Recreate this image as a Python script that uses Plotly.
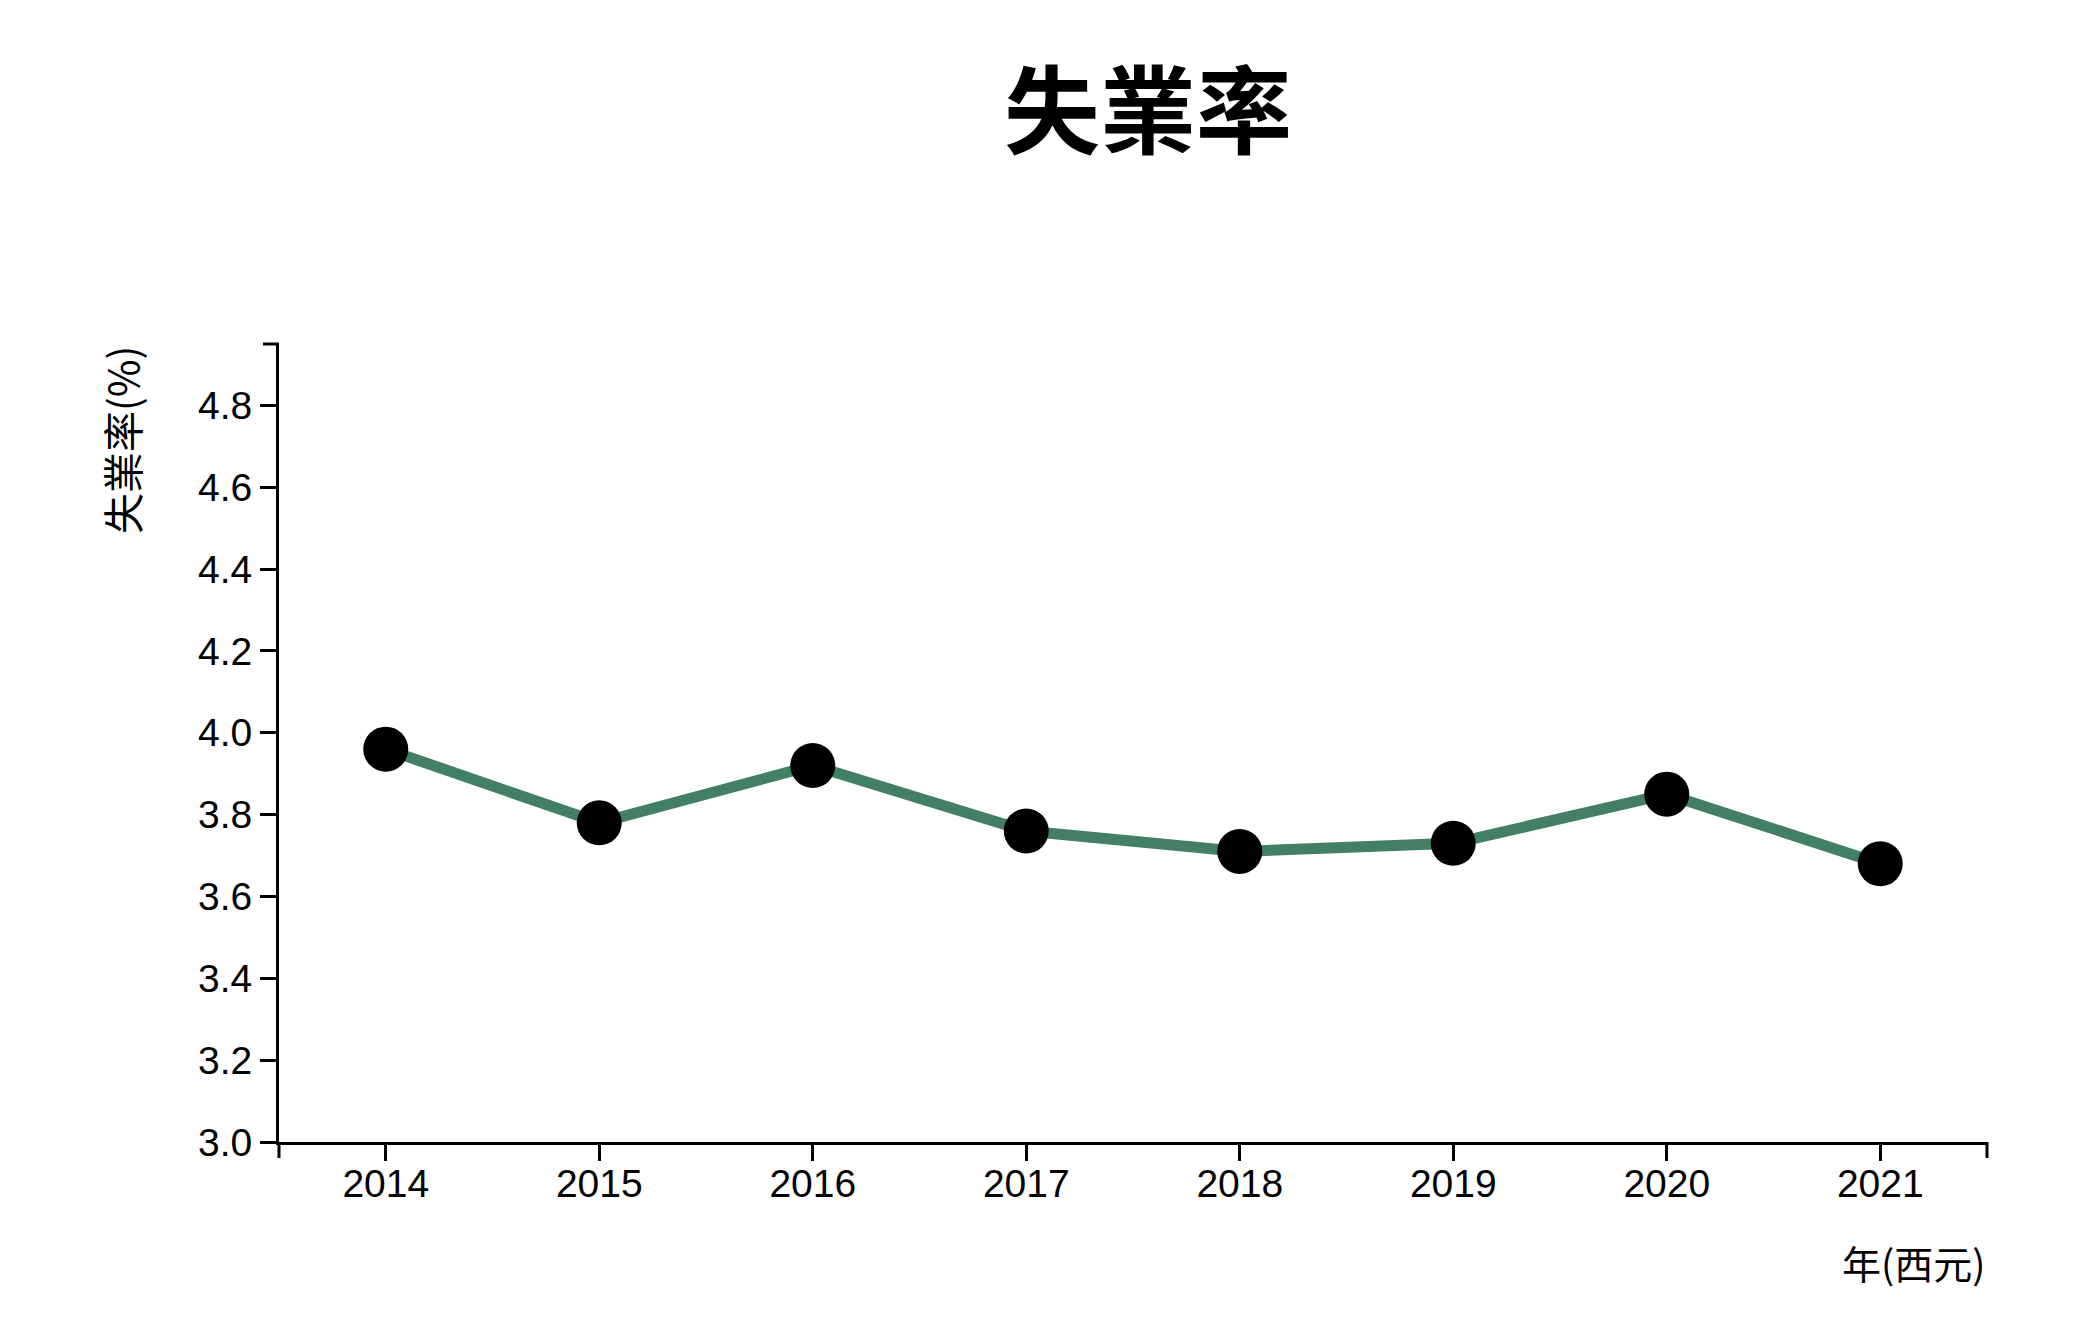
import plotly.graph_objects as go

years = [2014, 2015, 2016, 2017, 2018, 2019, 2020, 2021]
rates = [3.96, 3.78, 3.92, 3.76, 3.71, 3.73, 3.85, 3.68]
y_ticks = [3.0, 3.2, 3.4, 3.6, 3.8, 4.0, 4.2, 4.4, 4.6, 4.8]
title_text = "失業率"
y_title = "失業率(%)"
x_title = "年(西元)"

X_RANGE = [2013.5, 2021.5]
Y_RANGE = [3.0, 4.95]
FONT = "Liberation Sans, Noto Sans CJK TC, sans-serif"
CJK = "Noto Sans CJK TC, sans-serif"

fig = go.Figure()
fig.add_trace(go.Scatter(
    x=years, y=rates, mode="lines+markers",
    line=dict(color="#437F64", width=11),
    marker=dict(color="black", size=45, line=dict(width=0)),
    hoverinfo="x+y", showlegend=False,
))

axis_common = dict(
    showline=True, linecolor="black", linewidth=3,
    ticks="outside", ticklen=16, tickwidth=3, tickcolor="black",
    showgrid=False, zeroline=False,
    tickfont=dict(family=FONT, size=39, color="black"),
)

fig.update_layout(
    width=2094, height=1324,
    paper_bgcolor="white", plot_bgcolor="white",
    margin=dict(l=279, r=107, t=344, b=182, pad=0),
    title=dict(text=title_text, x=0.5482, xanchor="center", y=1 - 112 / 1324, yanchor="middle",
               font=dict(family=CJK, size=96, color="black", weight="bold")),
    xaxis=dict(range=X_RANGE, tickvals=years, ticktext=[str(v) for v in years],
               ticklabelstandoff=-11, **axis_common),
    yaxis=dict(range=Y_RANGE, tickvals=y_ticks, ticktext=[f"{v:.1f}" for v in y_ticks], **axis_common),
    annotations=[
        dict(text=y_title, xref="paper", yref="paper", x=-158 / 1708, y=1.0,
             xanchor="center", yanchor="top", textangle=-90, showarrow=False,
             font=dict(family=CJK, size=41, color="black")),
        dict(text=x_title, xref="paper", yref="paper", x=1.0, y=-(1262 - 1142) / 798,
             xanchor="right", yanchor="middle", showarrow=False,
             font=dict(family=CJK, size=39, color="black")),
    ],
    shapes=[
        # outer ticks at ends of axes (d3 style domain path)
        dict(type="line", xref="paper", yref="paper", xsizemode="pixel", xanchor=0,
             x0=0, x1=-16, y0=1, y1=1, line=dict(color="black", width=3)),
        dict(type="line", xref="paper", yref="paper", ysizemode="pixel", yanchor=0,
             y0=0, y1=-16, x0=0, x1=0, line=dict(color="black", width=3)),
        dict(type="line", xref="paper", yref="paper", ysizemode="pixel", yanchor=0,
             y0=0, y1=-16, x0=1, x1=1, line=dict(color="black", width=3)),
    ],
)

fig.write_html("out.html", config={"displayModeBar": False},
               post_script="document.body.style.margin='0';document.body.style.overflow='hidden';")
